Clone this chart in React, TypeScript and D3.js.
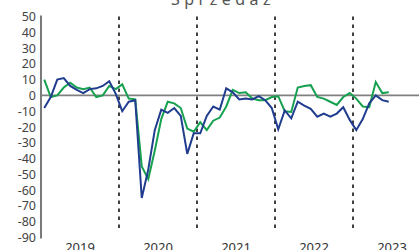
import React, { useRef, useEffect } from 'react';
import * as d3 from 'd3';

// monthly balance values, Jan 2019 - Jun 2023
const seriesBlue = [
  -8, -1, 10, 11, 6, 3.5, 1.5, 4, 4.5, 6, 9, 1,
  -10, -4, -3, -65, -47, -22, -9, -11, -8, -13, -37, -24,
  -24, -13, -7, -9, 4.5, 2, -2.5, -2, -2.5, -0.5, -3, -8,
  -21.5, -9.5, -14.5, -4, -6.5, -8.5, -13.5, -11.5, -13.5, -11.5, -7.5, -15.5,
  -22, -15, -5, 0, -3, -4,
];
const seriesGreen = [
  10, -1, 0, 5, 8, 5, 4, 5, -1, 0, 6, 4,
  7, -2, -2.5, -45, -53, -35, -15, -4, -5, -8, -21, -23,
  -17, -22, -16, -14, -7, 3.5, 1.5, 2, -2, -3, -3, -1,
  -0.5, -10, -10.5, 5, 6, 6.5, -1, -2, -4, -6, -1, 1.5,
  -2, -7, -7.5, 8.5, 1.5, 2,
];
const years = ['2019', '2020', '2021', '2022', '2023'];
const yTicks = [50, 40, 30, 20, 10, 0, -10, -20, -30, -40, -50, -60, -70, -80, -90];
const title = 'Sprzedaż';

const App = () => {
  const svgRef = useRef<SVGSVGElement>(null);

  useEffect(() => {
    const w = 419;
    const h = 250;
    const svg = d3.select(svgRef.current).attr('width', w).attr('height', h);
    svg.selectAll('*').remove();

    // scales: one unit = one month
    const xScale = d3.scaleLinear().domain([0, 12]).range([41, 119]);
    const yScale = d3.scaleLinear().domain([-90, 50]).range([237.5, 16.5]);

    // title (cut at the top)
    svg
      .append('text')
      .attr('x', 223)
      .attr('y', 5)
      .attr('text-anchor', 'middle')
      .style('font-family', '"Noto Sans", sans-serif')
      .style('font-size', '16px')
      .style('letter-spacing', '4.5px')
      .style('fill', '#555')
      .text(title);

    // y tick labels
    svg
      .selectAll('.ytick')
      .data(yTicks)
      .join('text')
      .attr('class', 'ytick')
      .attr('x', 36)
      .attr('y', (d) => yScale(d))
      .attr('dy', '0.36em')
      .attr('text-anchor', 'end')
      .style('font-family', '"Noto Sans", sans-serif')
      .style('font-size', '12.5px')
      .style('fill', '#444')
      .text((d) => d);

    // y axis line
    svg
      .append('line')
      .attr('x1', 41)
      .attr('x2', 41)
      .attr('y1', yScale(50) - 1)
      .attr('y2', yScale(-90) + 1)
      .style('stroke', '#222')
      .style('stroke-width', 1.2);

    // year separators
    svg
      .selectAll('.sep')
      .data([12, 24, 36, 48])
      .join('line')
      .attr('class', 'sep')
      .attr('x1', (d) => xScale(d))
      .attr('x2', (d) => xScale(d))
      .attr('y1', yScale(50))
      .attr('y2', yScale(-85))
      .style('stroke', '#111')
      .style('stroke-width', 1.6)
      .style('stroke-dasharray', '3.5 4.5');

    // zero line
    svg
      .append('line')
      .attr('x1', 41)
      .attr('x2', w)
      .attr('y1', yScale(0))
      .attr('y2', yScale(0))
      .style('stroke', '#808080')
      .style('stroke-width', 1.8);

    // year labels
    svg
      .selectAll('.year')
      .data(years)
      .join('text')
      .attr('class', 'year')
      .attr('x', (d, i) => xScale(i * 12 + 6))
      .attr('y', 252)
      .attr('text-anchor', 'middle')
      .style('font-family', '"Noto Sans", sans-serif')
      .style('font-size', '13px')
      .style('fill', '#333')
      .text((d) => d);

    const line = d3
      .line<number>()
      .x((d, i) => xScale(i + 0.5))
      .y((d) => yScale(d));

    svg
      .append('path')
      .datum(seriesGreen)
      .attr('d', line)
      .style('fill', 'none')
      .style('stroke', '#16a04f')
      .style('stroke-width', 2)
      .style('stroke-linejoin', 'miter');

    svg
      .append('path')
      .datum(seriesBlue)
      .attr('d', line)
      .style('fill', 'none')
      .style('stroke', '#203c8f')
      .style('stroke-width', 2)
      .style('stroke-linejoin', 'miter');
  }, []);

  return (
    <div style={{ position: 'absolute', left: 0, top: 0 }}>
      <svg ref={svgRef} style={{ display: 'block' }}></svg>
    </div>
  );
};

export default App;
